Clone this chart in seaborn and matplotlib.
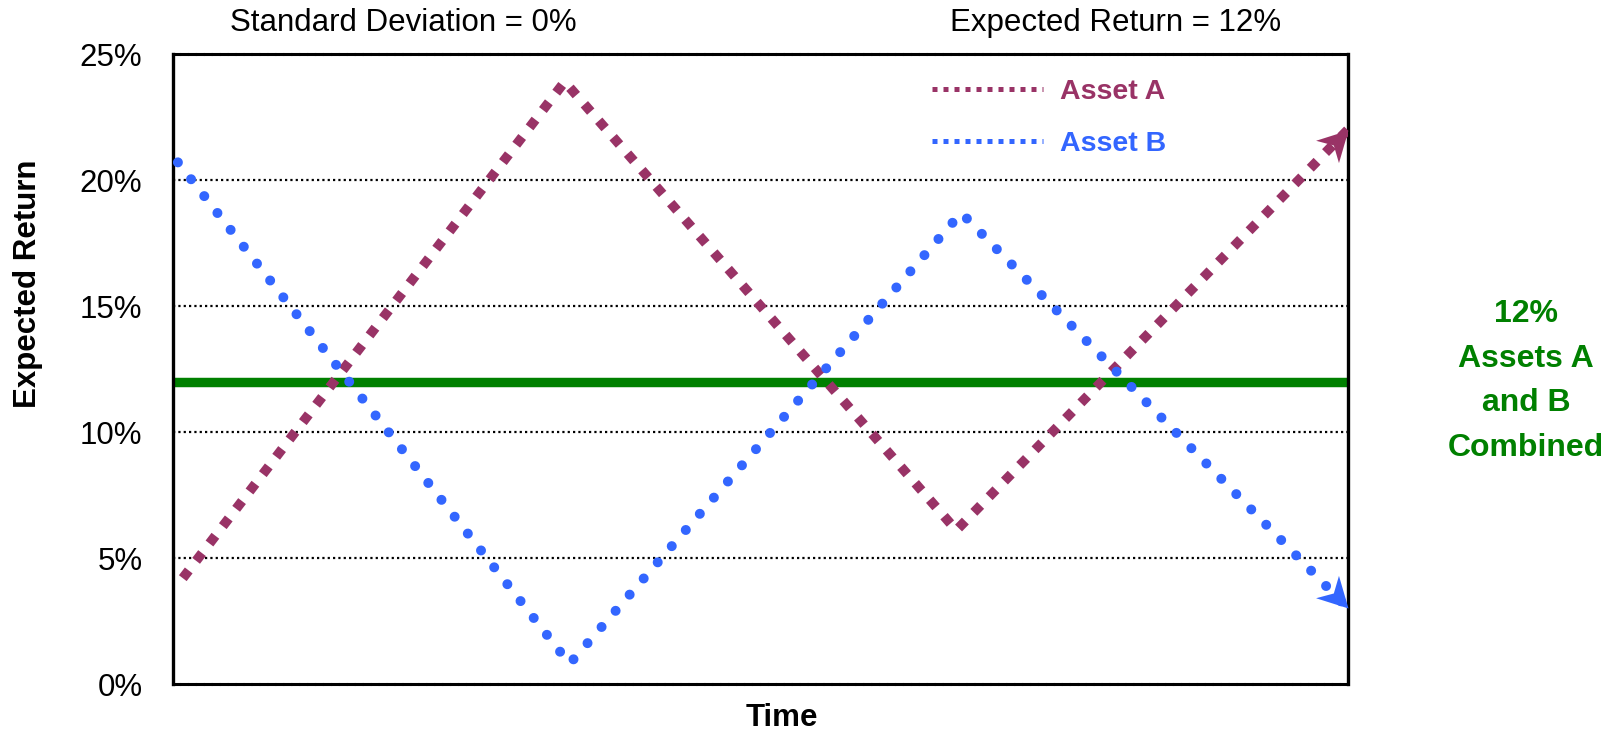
import numpy as np
import matplotlib
matplotlib.use("Agg")
import matplotlib.pyplot as plt
import seaborn as sns
from matplotlib.lines import Line2D
from matplotlib.path import Path
from matplotlib.font_manager import FontProperties

# ---- data -------------------------------------------------------------
time_a = [0.1, 4.0, 8.0, 12.0]
return_a = [4.2, 23.9, 6.1, 22.0]
time_b = [0.05, 4.05, 8.05, 12.0]
return_b = [20.7, 0.8, 18.7, 3.0]
combined_return = 12
y_ticks = [0, 5, 10, 15, 20, 25]
y_tick_labels = ["0%", "5%", "10%", "15%", "20%", "25%"]
grid_levels = [5, 10, 15, 20]
series_labels = ["Asset A", "Asset B"]

# ---- style ------------------------------------------------------------
sns.set_style("white")
plt.rcParams["font.family"] = ["Liberation Sans", "DejaVu Sans"]
plt.rcParams["text.color"] = "black"
plt.rcParams["axes.labelcolor"] = "black"
plt.rcParams["ytick.color"] = "black"
plt.rcParams["xtick.color"] = "black"

COLOR_A = "#993366"
COLOR_B = "#3366FF"
COLOR_C = "#008000"
FS = 22.5

W, H = 1619, 730
fig = plt.figure(figsize=(W / 100, H / 100), dpi=100)
ax = fig.add_axes([173 / W, 46 / H, 1175 / W, 630 / H])
ax.set_xlim(0, 12)
ax.set_ylim(0, 25)

# horizontal reference lines
for lvl in grid_levels:
    ax.axhline(lvl, color="black", lw=1.6, linestyle=(0, (1, 1.4)), zorder=1)

# combined return
ax.axhline(combined_return, color=COLOR_C, lw=6.8, zorder=2)

# asset series
sns.lineplot(x=time_a, y=return_a, ax=ax, color=COLOR_A, lw=7.0,
             linestyle=(0, (1.0, 1.25)), dash_capstyle="butt",
             solid_joinstyle="miter", zorder=3)
sns.lineplot(x=time_b, y=return_b, ax=ax, color=COLOR_B, lw=7.2,
             linestyle=(0, (0.001, 2.14)), dash_capstyle="round", zorder=4)


def arrow_marker(ax, xs, ys):
    p1 = ax.transData.transform((xs[-2], ys[-2]))
    p2 = ax.transData.transform((xs[-1], ys[-1]))
    ang = np.arctan2(p2[1] - p1[1], p2[0] - p1[0])
    base = np.array([[0, 0], [-30, 16], [-21, 0], [-30, -16], [0, 0]], float)
    c, s = np.cos(ang), np.sin(ang)
    rot = base @ np.array([[c, s], [-s, c]])
    codes = [Path.MOVETO, Path.LINETO, Path.LINETO, Path.LINETO, Path.CLOSEPOLY]
    ext = np.abs(rot).max()
    return Path(rot, codes), ext


for xs, ys, col in [(time_a, return_a, COLOR_A), (time_b, return_b, COLOR_B)]:
    path, ext = arrow_marker(ax, xs, ys)
    ms = 2 * ext * 0.72  # pixels -> points
    ax.plot([xs[-1]], [ys[-1]], marker=path, ms=ms, color=col, mew=0,
            linestyle="none", zorder=5, clip_on=False)

# axes frame
for side in ["left", "right"]:
    ax.spines[side].set_color("black")
    ax.spines[side].set_linewidth(2.4)
for side in ["top", "bottom"]:
    ax.spines[side].set_color("black")
    ax.spines[side].set_linewidth(2.2)
    ax.spines[side].set_linestyle((0, (2, 0.6)))

ax.set_xticks([])
ax.set_yticks(y_ticks)
ax.set_yticklabels(y_tick_labels, fontsize=FS, color="black")
ax.tick_params(axis="y", length=0, pad=22)

ax.set_xlabel("Time", fontsize=FS, fontweight="bold", color="black")
ax.xaxis.set_label_coords(0.518, -0.03)
ax.set_ylabel("Expected Return", fontsize=FS, fontweight="bold", color="black")
ax.yaxis.set_label_coords(-0.111, 0.635)

# legend
handles = [Line2D([], [], color=COLOR_A, lw=3.6, linestyle=(0, (1, 1.2))),
           Line2D([], [], color=COLOR_B, lw=3.6, linestyle=(0, (1, 1.2)))]
ax.legend(handles, series_labels, loc="upper left",
          bbox_to_anchor=(932 / W, 1 - 79 / H), bbox_transform=fig.transFigure,
          frameon=False, prop=FontProperties(weight="bold", size=20.5),
          labelcolor=[COLOR_A, COLOR_B], handlelength=3.9, handletextpad=0.6,
          labelspacing=0.92, borderpad=0, borderaxespad=0)

# header texts
fig.text(403 / W, 1 - 23 / H, "Standard Deviation = 0%", fontsize=FS,
         ha="center", va="center", color="black")
fig.text(1116 / W, 1 - 23 / H, "Expected Return = 12%", fontsize=FS,
         ha="center", va="center", color="black")

# combined annotation
fig.text(1526 / W, 1 - 381 / H, f"{combined_return}%\nAssets A\nand B\nCombined",
         fontsize=23, fontweight="bold", color=COLOR_C, ha="center",
         va="center", linespacing=1.64)

fig.savefig("out.png", dpi=100)
